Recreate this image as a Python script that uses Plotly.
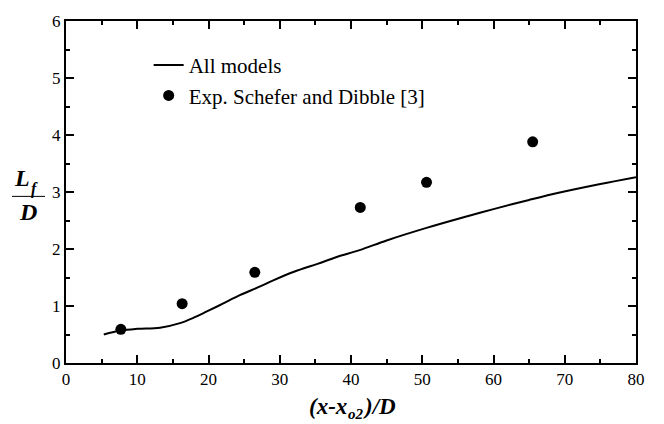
import plotly.graph_objects as go

# Model curve (All models)
model_x = [5.3, 7.7, 10, 13.2, 16, 18, 19.7, 22, 24.4, 27, 29.1, 32, 35.3, 38, 41.2, 45,
           50.6, 56.2, 60, 65, 69.3, 75, 80]
model_y = [0.50, 0.57, 0.60, 0.62, 0.70, 0.80, 0.90, 1.04, 1.19, 1.33, 1.45, 1.60, 1.74,
           1.86, 1.98, 2.15, 2.37, 2.57, 2.70, 2.86, 2.99, 3.14, 3.26]

# Experimental data (Schefer and Dibble)
exp_x = [7.7, 16.3, 26.5, 41.3, 50.6, 65.5]
exp_y = [0.59, 1.04, 1.59, 2.73, 3.17, 3.88]

x_ticks = [0, 10, 20, 30, 40, 50, 60, 70, 80]
y_ticks = [0, 1, 2, 3, 4, 5, 6]
x_minor = [v + 5 for v in x_ticks[:-1]]
y_minor = [v + 0.5 for v in y_ticks[:-1]]

FONT = "Liberation Serif"
XR = [0, 80]
YR = [0, 6]

fig = go.Figure()
fig.add_trace(go.Scatter(x=model_x, y=model_y, mode="lines", name="All models",
                         line=dict(color="black", width=2, shape="spline", smoothing=1.0)))
fig.add_trace(go.Scatter(x=exp_x, y=exp_y, mode="markers", name="Exp. Schefer and Dibble [3]",
                         marker=dict(color="black", size=11)))

# empty helper traces so the overlay tick axes are drawn
for xa, ya in [("x2", "y"), ("x3", "y"), ("x4", "y"), ("x", "y2"), ("x", "y3"), ("x", "y4")]:
    fig.add_trace(go.Scatter(x=[], y=[], xaxis=xa, yaxis=ya, showlegend=False,
                             hoverinfo="skip", mode="markers"))

main = dict(showline=True, linecolor="black", linewidth=2, mirror=True,
            ticks="inside", ticklen=8, tickwidth=2, tickcolor="black",
            showgrid=False, zeroline=False,
            tickfont=dict(family=FONT, size=17, color="black"))
over = dict(showline=False, showgrid=False, zeroline=False, showticklabels=False,
            ticks="inside", tickwidth=2, tickcolor="black")

fig.update_layout(
    width=664, height=424,
    margin=dict(l=66, r=28, t=12, b=61),
    plot_bgcolor="white", paper_bgcolor="white",
    font=dict(family=FONT, color="black"),
    xaxis=dict(range=XR, tickvals=x_ticks, **main),
    yaxis=dict(range=YR, tickvals=y_ticks, **main),
    xaxis2=dict(range=XR, tickvals=x_minor, ticklen=4, overlaying="x", side="bottom",
                anchor="y", **over),
    xaxis3=dict(range=XR, tickvals=x_ticks, ticklen=8, overlaying="x", side="top",
                anchor="y", **over),
    xaxis4=dict(range=XR, tickvals=x_minor, ticklen=4, overlaying="x", side="top",
                anchor="y", **over),
    yaxis2=dict(range=YR, tickvals=y_minor, ticklen=4, overlaying="y", side="left",
                anchor="x", **over),
    yaxis3=dict(range=YR, tickvals=y_ticks, ticklen=8, overlaying="y", side="right",
                anchor="x", **over),
    yaxis4=dict(range=YR, tickvals=y_minor, ticklen=4, overlaying="y", side="right",
                anchor="x", **over),
    legend=dict(x=0.145, y=0.93, xanchor="left", yanchor="top", font=dict(size=21)),
)

def px_x(px):
    return (px - 66) / 570

def px_y(py):
    return (363 - py) / 351

bi = dict(family=FONT, color="black", weight="bold", style="italic")

# X-axis title: (x-x_o2)/D built from pieces
fig.add_annotation(xref="paper", yref="paper", x=px_x(349), y=px_y(408),
                   xanchor="right", yanchor="middle", showarrow=False,
                   text="(x-x", font=dict(size=23, **bi))
fig.add_annotation(xref="paper", yref="paper", x=px_x(346), y=px_y(415),
                   xanchor="left", yanchor="middle", showarrow=False,
                   text="o2", font=dict(size=15, **bi))
fig.add_annotation(xref="paper", yref="paper", x=px_x(361), y=px_y(408),
                   xanchor="left", yanchor="middle", showarrow=False,
                   text=")/D", font=dict(size=23, **bi))

# Y-axis title: L_f over D
fig.add_annotation(xref="paper", yref="paper", x=px_x(22), y=px_y(173),
                   xanchor="center", yanchor="middle", showarrow=False,
                   text="L", font=dict(size=24, **bi))
fig.add_annotation(xref="paper", yref="paper", x=px_x(29), y=px_y(184),
                   xanchor="left", yanchor="middle", showarrow=False,
                   text="f", font=dict(size=16, **bi))
fig.add_annotation(xref="paper", yref="paper", x=px_x(28), y=px_y(208),
                   xanchor="center", yanchor="middle", showarrow=False,
                   text="D", font=dict(size=24, **bi))
fig.add_shape(type="line", xref="paper", yref="paper",
              x0=px_x(12), x1=px_x(45), y0=px_y(192), y1=px_y(192),
              line=dict(color="black", width=1))

fig.write_html("out.html")
